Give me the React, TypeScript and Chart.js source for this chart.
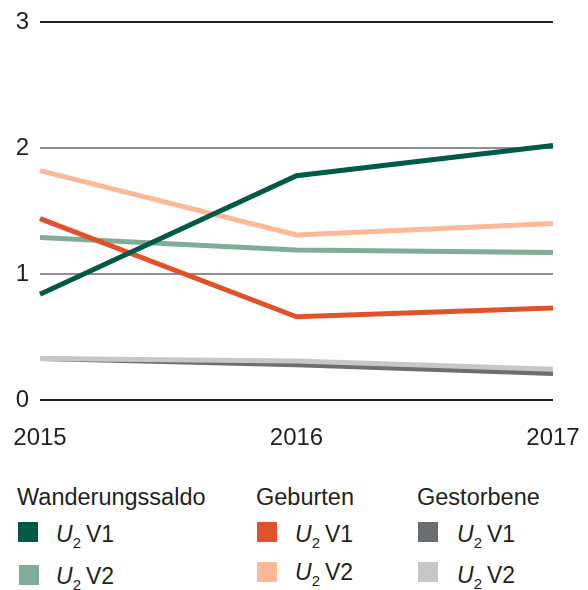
import React, { useEffect, useRef } from "react";
import { Chart, registerables } from "chart.js";

Chart.register(...registerables);

const years = ["2015", "2016", "2017"];
const wanderungV1 = [0.84, 1.78, 2.02];
const wanderungV2 = [1.29, 1.19, 1.17];
const geburtenV1 = [1.44, 0.66, 0.73];
const geburtenV2 = [1.82, 1.31, 1.4];
const gestorbeneV1 = [0.33, 0.28, 0.21];
const gestorbeneV2 = [0.33, 0.31, 0.245];
const yTicks = [0, 1, 2, 3];

const C_WV1 = "#005a46";
const C_WV2 = "#80ad98";
const C_GV1 = "#e05328";
const C_GV2 = "#fbba95";
const C_SV1 = "#6c6f71";
const C_SV2 = "#c6c7c9";

const FONT = "'Liberation Sans', Arial, Helvetica, sans-serif";
const TEXT = "#231f20";

function LegendItem({ x, y, color }: { x: number; y: number; color: string }) {
  return (
    <div style={{ position: "absolute", left: x, top: y, width: 20, height: 20, background: color }} />
  );
}

function LegendLabel({ x, y, v }: { x: number; y: number; v: string }) {
  return (
    <div
      style={{
        position: "absolute",
        left: x,
        top: y,
        fontFamily: FONT,
        fontSize: 23,
        color: TEXT,
        lineHeight: "26px",
        whiteSpace: "nowrap",
      }}
    >
      <i>U</i>
      <sub style={{ fontSize: 15, verticalAlign: "-6px", marginRight: 5 }}>2</sub>
      {v}
    </div>
  );
}

function Header({ x, y, text }: { x: number; y: number; text: string }) {
  return (
    <div
      style={{
        position: "absolute",
        left: x,
        top: y,
        fontFamily: FONT,
        fontSize: 23.5,
        color: TEXT,
        lineHeight: "26px",
        whiteSpace: "nowrap",
      }}
    >
      {text}
    </div>
  );
}

export default function App() {
  const ref = useRef<HTMLCanvasElement | null>(null);

  useEffect(() => {
    if (!ref.current) return;
    const mk = (data: number[], color: string) => ({
      data,
      borderColor: color,
      backgroundColor: color,
      borderWidth: 5,
      pointRadius: 0,
      fill: false,
      tension: 0,
    });
    const chart = new Chart(ref.current, {
      type: "line",
      data: {
        labels: years,
        datasets: [
          mk(wanderungV1, C_WV1),
          mk(geburtenV1, C_GV1),
          mk(geburtenV2, C_GV2),
          mk(wanderungV2, C_WV2),
          mk(gestorbeneV2, C_SV2),
          mk(gestorbeneV1, C_SV1),
        ],
      },
      options: {
        animation: false,
        responsive: false,
        devicePixelRatio: 1,
        layout: { padding: { top: 22, right: 35, left: 0, bottom: 0 } },
        plugins: { legend: { display: false }, tooltip: { enabled: false } },
        scales: {
          x: {
            type: "category",
            offset: false,
            grid: { display: false, drawTicks: true, tickLength: 24 },
            border: { display: false },
            ticks: {
              padding: 0,
              color: TEXT,
              font: { family: FONT, size: 24 },
              maxRotation: 0,
              autoSkip: false,
            },
            afterFit: (s: any) => {
              s.height = 70;
            },
          },
          y: {
            min: 0,
            max: 3,
            afterBuildTicks: (s: any) => {
              s.ticks = yTicks.map((v) => ({ value: v }));
            },
            grid: {
              drawTicks: true,
              tickLength: 11,
              tickColor: "rgba(0,0,0,0)",
              lineWidth: 2,
              color: (ctx: any) =>
                ctx.tick && (ctx.tick.value === 0 || ctx.tick.value === 3) ? TEXT : "#8d8f91",
            },
            border: { display: false },
            ticks: {
              padding: 0,
              color: TEXT,
              font: { family: FONT, size: 24 },
            },
            afterFit: (s: any) => {
              s.width = 40;
            },
          },
        },
      },
    });
    return () => chart.destroy();
  }, []);

  return (
    <div style={{ position: "absolute", left: 0, top: 0, width: 588, height: 590, background: "#fff" }}>
      <canvas ref={ref} width={588} height={470} style={{ position: "absolute", left: 0, top: 0 }} />
      <Header x={17} y={484} text="Wanderungssaldo" />
      <Header x={256} y={484} text="Geburten" />
      <Header x={417} y={484} text="Gestorbene" />

      <LegendItem x={18} y={522} color={C_WV1} />
      <LegendItem x={19} y={565} color={C_WV2} />
      <LegendItem x={257} y={522} color={C_GV1} />
      <LegendItem x={257} y={562} color={C_GV2} />
      <LegendItem x={418} y={522} color={C_SV1} />
      <LegendItem x={418} y={562} color={C_SV2} />

      <LegendLabel x={56} y={521} v="V1" />
      <LegendLabel x={56} y={563} v="V2" />
      <LegendLabel x={295} y={521} v="V1" />
      <LegendLabel x={295} y={559} v="V2" />
      <LegendLabel x={457} y={521} v="V1" />
      <LegendLabel x={457} y={562} v="V2" />
    </div>
  );
}
